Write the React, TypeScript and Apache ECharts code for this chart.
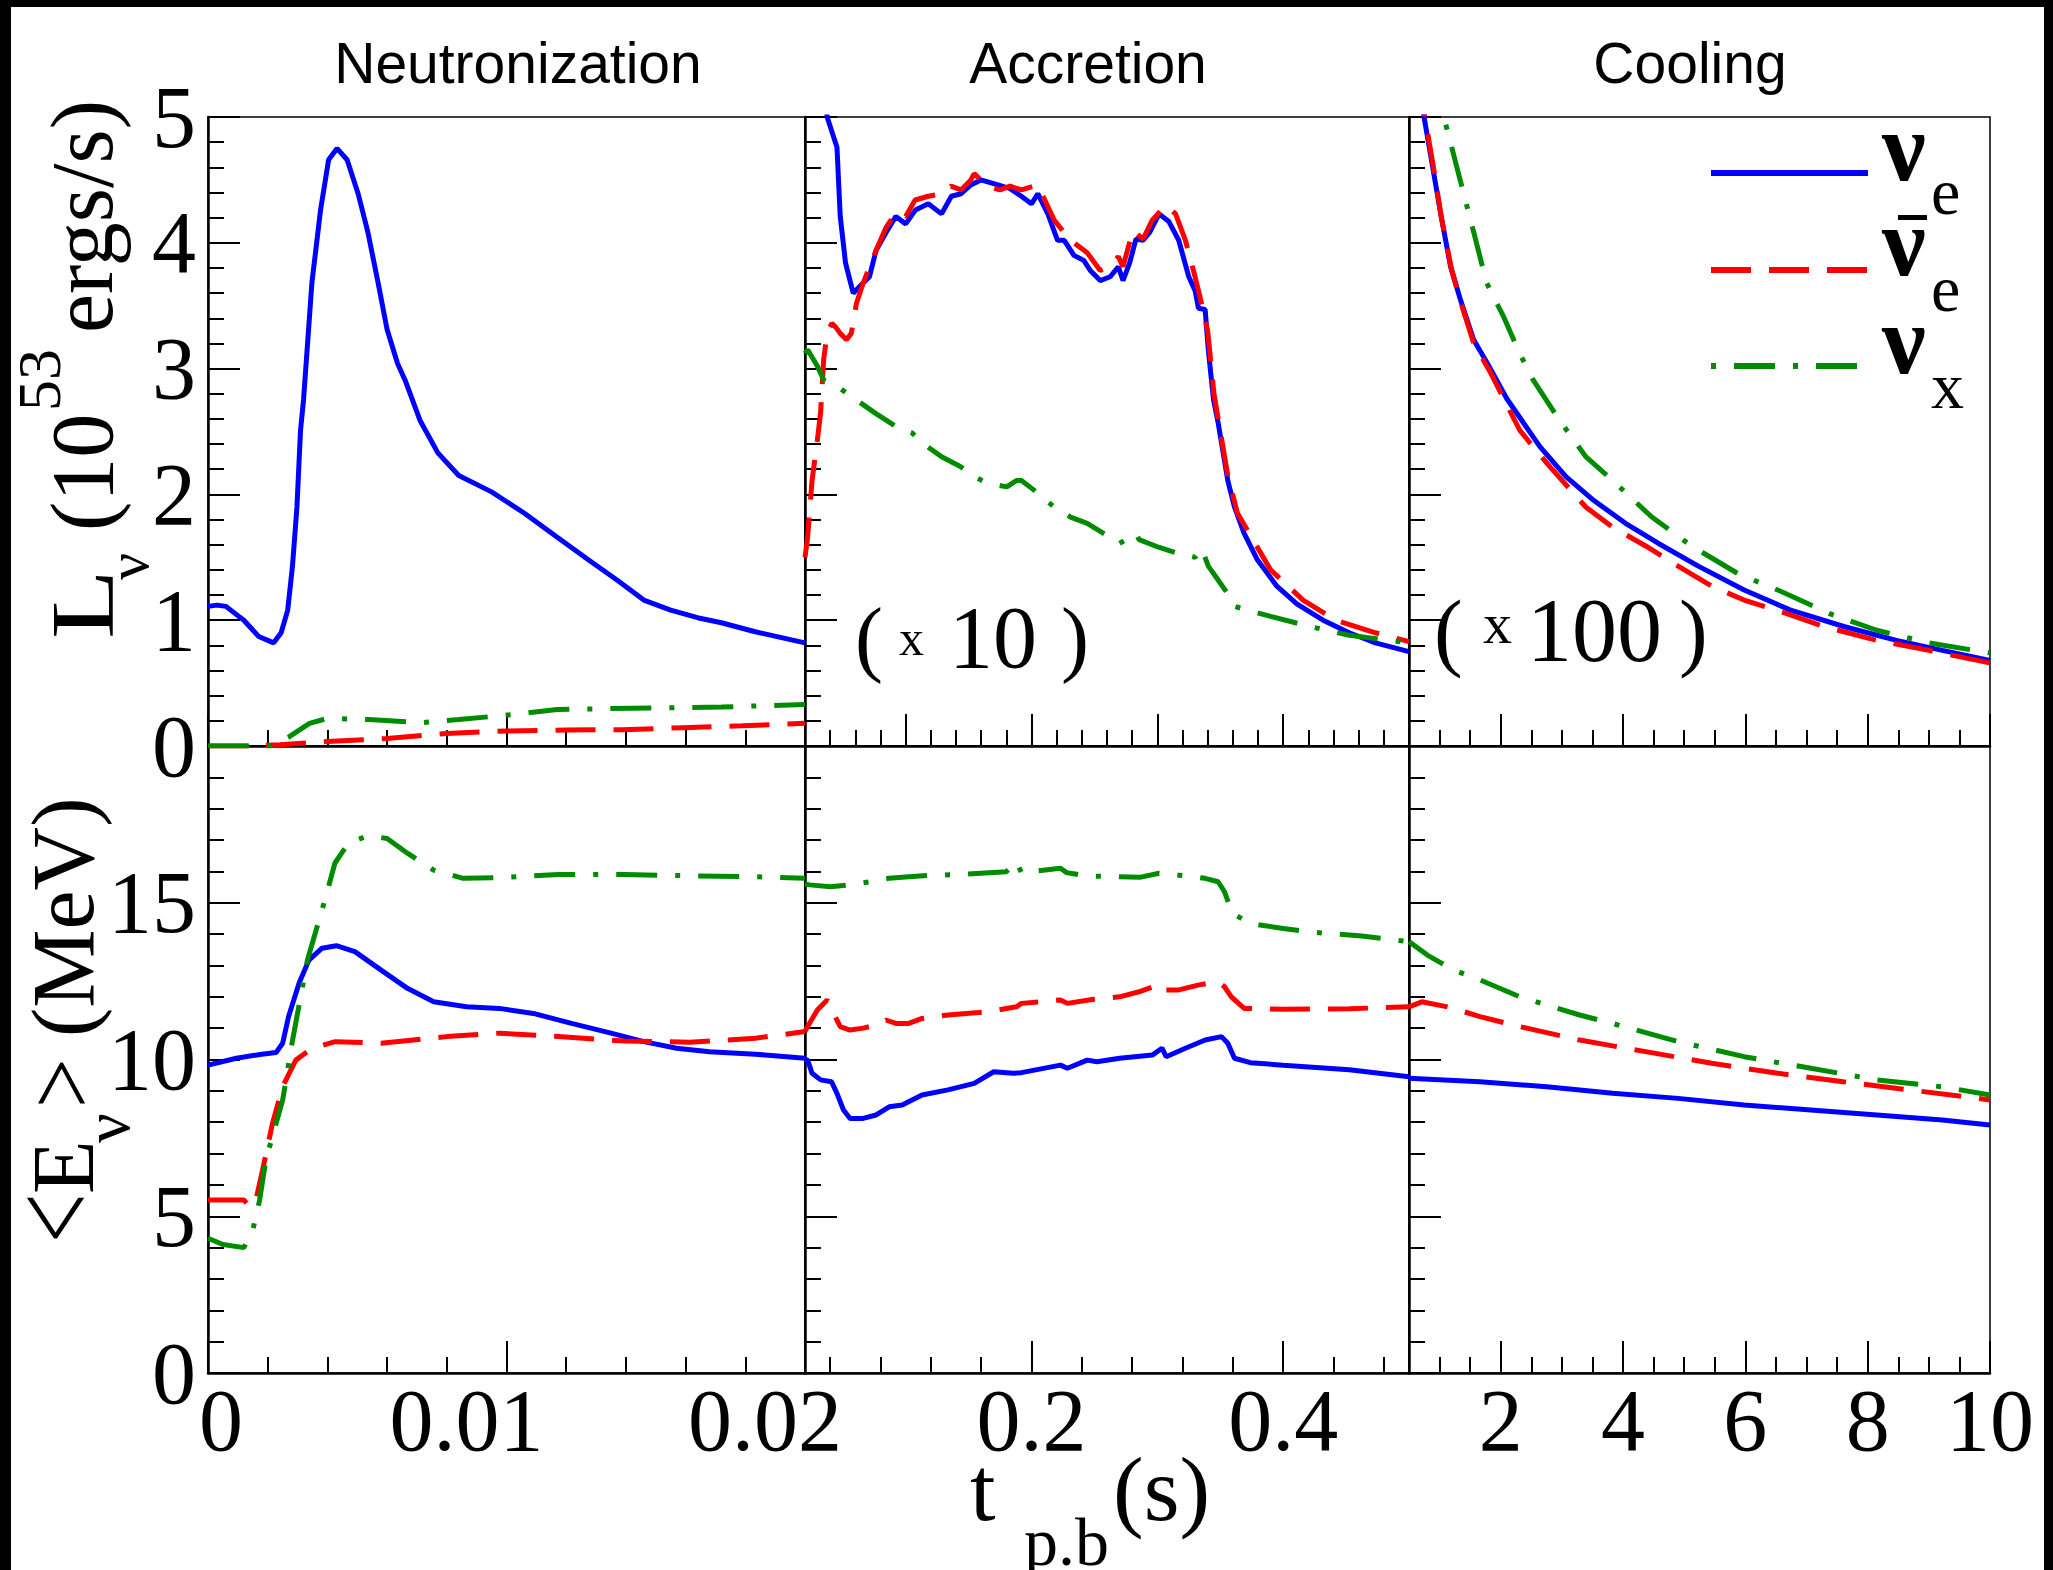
import React, { useEffect, useRef } from "react";
import * as echarts from "echarts";

// ---------- axis ranges / ticks / labels ----------
const neutRange = [0, 0.02];
const accRange = [0.02, 0.5];
const coolRange = [0.5, 10];
const lumRange = [0, 5];
const engRange = [0, 20];

const neutMajor = [0, 0.01, 0.02];
const neutMinor = [0.002, 0.004, 0.006, 0.008, 0.012, 0.014, 0.016, 0.018];
const neutLabelVals = [0, 0.01, 0.02];
const neutLabels = ["0", "0.01", "0.02"];

const accTopMajor = [0.1, 0.2, 0.3, 0.4];
const accTopMinor = [0.04, 0.06, 0.08, 0.12, 0.14, 0.16, 0.18, 0.22, 0.24, 0.26, 0.28, 0.32, 0.34, 0.36, 0.38, 0.42, 0.44, 0.46, 0.48];
const accBotMajor = [0.2, 0.4];
const accBotMinor = [0.04, 0.08, 0.12, 0.16, 0.24, 0.28, 0.32, 0.36, 0.44, 0.48];
const accLabelVals = [0.2, 0.4];
const accLabels = ["0.2", "0.4"];

const coolMajor = [2, 4, 6, 8, 10];
const coolMinor = [1, 1.5, 2.5, 3, 3.5, 4.5, 5, 5.5, 6.5, 7, 7.5, 8.5, 9, 9.5];
const coolLabelVals = [2, 4, 6, 8, 10];
const coolLabels = ["2", "4", "6", "8", "10"];

const phaseNames = ["Neutronization", "Accretion", "Cooling"];

// ---------- luminosity (10^53 erg/s) ----------
const lumNeutNue = [[0,1.11],[0.0003,1.12],[0.0006,1.11],[0.0012,1.0],[0.0017,0.87],[0.0022,0.82],[0.00245,0.9],[0.00267,1.08],[0.00283,1.43],[0.00298,1.9],[0.0031,2.51],[0.0032,2.75],[0.00348,3.68],[0.00377,4.26],[0.00404,4.66],[0.00432,4.75],[0.00466,4.66],[0.00503,4.39],[0.00536,4.08],[0.0057,3.68],[0.006,3.31],[0.00635,3.04],[0.0066,2.91],[0.0071,2.59],[0.0077,2.33],[0.0084,2.15],[0.0095,2.02],[0.0106,1.85],[0.0117,1.66],[0.0128,1.47],[0.0137,1.32],[0.0146,1.16],[0.0155,1.08],[0.0164,1.02],[0.0172,0.98],[0.0183,0.91],[0.02,0.82]];
const lumNeutAnti = [[0,0],[0.0014,0],[0.0024,0.01],[0.004,0.035],[0.006,0.06],[0.008,0.1],[0.01,0.12],[0.012,0.127],[0.0139,0.13],[0.0159,0.145],[0.0179,0.16],[0.02,0.18]];
const lumNeutNux = [[0,0],[0.0021,0],[0.0027,0.07],[0.0034,0.18],[0.004,0.22],[0.0054,0.21],[0.0071,0.185],[0.0084,0.21],[0.0102,0.25],[0.0117,0.29],[0.0142,0.3],[0.0172,0.31],[0.02,0.33]];

const lumAccNue = [[0.02,7.5],[0.034,5.5],[0.0376,5.0],[0.0454,4.76],[0.048,4.21],[0.0522,3.84],[0.0583,3.6],[0.0662,3.68],[0.0712,3.73],[0.0765,3.94],[0.0843,4.08],[0.0922,4.21],[0.1,4.15],[0.1077,4.26],[0.118,4.31],[0.1285,4.23],[0.1363,4.37],[0.144,4.39],[0.1518,4.46],[0.1597,4.5],[0.17,4.47],[0.183,4.43],[0.192,4.37],[0.2,4.31],[0.205,4.39],[0.213,4.23],[0.2207,4.02],[0.226,4.02],[0.2337,3.9],[0.2416,3.86],[0.2467,3.78],[0.2546,3.7],[0.2625,3.73],[0.269,3.81],[0.2727,3.7],[0.278,3.84],[0.283,4.03],[0.2886,4.02],[0.2937,4.08],[0.3014,4.23],[0.3091,4.17],[0.317,4.02],[0.325,3.73],[0.33,3.62],[0.3327,3.48],[0.338,3.47],[0.3405,3.15],[0.343,2.91],[0.3447,2.75],[0.3483,2.57],[0.356,2.11],[0.3613,1.9],[0.369,1.69],[0.3795,1.48],[0.395,1.27],[0.4108,1.13],[0.4317,1.0],[0.4525,0.9],[0.4733,0.82],[0.5,0.75]];
const lumAccAnti = [[0.02,1.5],[0.0221,1.66],[0.0256,2.11],[0.0298,2.43],[0.0324,2.65],[0.0348,3.07],[0.0376,3.28],[0.0413,3.36],[0.0444,3.33],[0.048,3.28],[0.053,3.23],[0.0568,3.28],[0.0609,3.52],[0.0662,3.68],[0.0765,3.94],[0.0843,4.12],[0.0922,4.24],[0.1,4.21],[0.1075,4.34],[0.118,4.37],[0.1285,4.39],[0.136,4.45],[0.144,4.42],[0.1518,4.5],[0.1545,4.55],[0.1648,4.45],[0.175,4.42],[0.183,4.45],[0.192,4.42],[0.205,4.46],[0.218,4.18],[0.226,4.08],[0.2337,4.0],[0.2443,3.92],[0.2546,3.78],[0.2625,3.81],[0.269,3.89],[0.2727,3.81],[0.2806,4.1],[0.2886,4.03],[0.296,4.18],[0.3067,4.3],[0.3145,4.23],[0.3223,4.02],[0.33,3.73],[0.3353,3.51],[0.34,3.3],[0.345,2.8],[0.356,2.15],[0.3637,1.85],[0.39,1.4],[0.4158,1.16],[0.4419,1.0],[0.4733,0.9],[0.5,0.83]];
const lumAccNux = [[0.02,3.12],[0.0221,3.15],[0.0298,3.02],[0.0348,2.91],[0.0454,2.86],[0.0609,2.75],[0.0767,2.64],[0.0922,2.54],[0.105,2.49],[0.113,2.41],[0.1285,2.3],[0.1438,2.22],[0.1545,2.14],[0.1648,2.09],[0.1803,2.06],[0.188,2.11],[0.192,2.11],[0.2025,2.03],[0.218,1.9],[0.231,1.82],[0.2443,1.77],[0.27,1.61],[0.283,1.69],[0.2855,1.64],[0.301,1.58],[0.317,1.53],[0.33,1.5],[0.3353,1.57],[0.3405,1.43],[0.3483,1.32],[0.356,1.21],[0.3613,1.11],[0.39,1.03],[0.4213,0.95],[0.4525,0.88],[0.5,0.82]];

const lumCoolNue = [[0.5,6.6],[0.6,5.7],[0.746,5.0],[0.888,4.6],[1.018,4.23],[1.18,3.81],[1.34,3.55],[1.557,3.23],[1.83,3.0],[2.1,2.76],[2.64,2.38],[3.07,2.14],[3.5,1.96],[4.04,1.77],[4.58,1.61],[5.23,1.43],[5.98,1.24],[6.74,1.08],[7.61,0.95],[8.47,0.84],[9.22,0.76],[10,0.68]];
const lumCoolAnti = [[0.5,6.7],[0.6,5.8],[0.76,5.0],[0.9,4.6],[1.03,4.2],[1.19,3.8],[1.35,3.52],[1.56,3.2],[1.83,2.97],[2.31,2.51],[2.75,2.25],[3.39,1.9],[3.83,1.74],[4.37,1.59],[4.9,1.43],[5.45,1.27],[5.98,1.16],[6.63,1.06],[7.28,0.95],[8.15,0.84],[9.0,0.76],[10,0.66]];
const lumCoolNux = [[0.5,8.0],[0.8,6.2],[1.07,5.0],[1.32,4.53],[1.56,4.08],[1.77,3.68],[2.04,3.42],[2.31,3.12],[2.53,2.91],[2.96,2.59],[3.39,2.3],[3.83,2.11],[4.47,1.82],[5.12,1.59],[5.88,1.37],[6.53,1.24],[7.39,1.05],[8.15,0.92],[9.0,0.82],[10,0.74]];

// ---------- mean energy (MeV) ----------
const engNeutNue = [[0,9.82],[0.00095,10.04],[0.0018,10.17],[0.00228,10.22],[0.0025,10.52],[0.0027,11.37],[0.00305,12.43],[0.00338,13.17],[0.00382,13.55],[0.0043,13.63],[0.00492,13.44],[0.0058,12.85],[0.00668,12.27],[0.00756,11.84],[0.00866,11.68],[0.00976,11.63],[0.0109,11.47],[0.01218,11.15],[0.0135,10.84],[0.0146,10.57],[0.0157,10.36],[0.0168,10.25],[0.01834,10.17],[0.02,10.04]];
const engNeutAnti = [[0,5.52],[0.0012,5.52],[0.0014,5.3],[0.0016,5.5],[0.00183,6.48],[0.00216,7.96],[0.0025,9.13],[0.00294,9.98],[0.00349,10.36],[0.00426,10.57],[0.0058,10.52],[0.008,10.73],[0.00976,10.84],[0.01174,10.73],[0.01396,10.59],[0.01615,10.55],[0.01834,10.68],[0.02,10.89]];
const engNeutNux = [[0,4.3],[0.0005,4.1],[0.0012,4.0],[0.0015,4.56],[0.00173,5.52],[0.00194,6.8],[0.0025,8.7],[0.00283,10.6],[0.00333,13.17],[0.00392,15.1],[0.00425,16.26],[0.0047,16.9],[0.00536,17.14],[0.006,17.05],[0.00668,16.58],[0.00756,16.04],[0.00855,15.78],[0.00976,15.8],[0.01174,15.9],[0.01396,15.9],[0.01615,15.86],[0.01834,15.83],[0.02,15.78]];

const engAccNue = [[0.02,10.0],[0.0221,9.98],[0.0256,9.56],[0.0324,9.35],[0.0411,9.29],[0.0454,8.92],[0.0506,8.39],[0.0558,8.12],[0.0662,8.12],[0.0765,8.23],[0.0869,8.49],[0.0972,8.55],[0.113,8.87],[0.1336,9.03],[0.1545,9.24],[0.17,9.61],[0.1856,9.56],[0.192,9.58],[0.223,9.82],[0.2285,9.72],[0.2443,9.98],[0.252,9.93],[0.27,10.04],[0.296,10.14],[0.3037,10.36],[0.307,10.09],[0.3223,10.36],[0.338,10.62],[0.351,10.73],[0.356,10.52],[0.3613,10.04],[0.374,9.9],[0.4,9.82],[0.4525,9.67],[0.5,9.45]];
const engAccAnti = [[0.02,10.9],[0.0221,11.05],[0.0298,11.58],[0.0376,11.9],[0.0427,11.47],[0.048,11.05],[0.0558,10.94],[0.0662,11.0],[0.0765,11.1],[0.0843,11.26],[0.0922,11.15],[0.1025,11.15],[0.113,11.31],[0.1336,11.42],[0.1648,11.52],[0.188,11.68],[0.192,11.79],[0.223,11.9],[0.2285,11.79],[0.2494,11.92],[0.27,12.0],[0.2855,12.16],[0.301,12.38],[0.3037,12.22],[0.317,12.22],[0.3332,12.38],[0.3483,12.48],[0.3534,12.32],[0.3588,12.0],[0.369,11.63],[0.4,11.6],[0.4525,11.62],[0.5,11.68]];
const engAccNux = [[0.02,15.6],[0.0237,15.57],[0.0403,15.51],[0.0558,15.57],[0.0713,15.67],[0.0869,15.78],[0.1025,15.83],[0.123,15.88],[0.1438,15.9],[0.18,15.99],[0.188,16.31],[0.192,15.96],[0.223,16.1],[0.228,15.96],[0.2443,15.85],[0.27,15.83],[0.286,15.81],[0.3014,15.94],[0.317,15.88],[0.338,15.78],[0.3483,15.67],[0.3534,15.35],[0.3597,14.66],[0.374,14.34],[0.4,14.18],[0.426,14.05],[0.4625,13.94],[0.5,13.76]];

const engCoolNue = [[0.5,9.4],[1.66,9.29],[2.75,9.13],[3.83,8.92],[4.9,8.76],[5.98,8.55],[7.07,8.39],[8.15,8.23],[9.22,8.07],[10,7.91]];
const engCoolAnti = [[0.5,11.68],[0.71,11.84],[1.13,11.68],[1.66,11.37],[2.31,11.05],[3.29,10.62],[4.37,10.25],[5.45,9.88],[6.53,9.56],[7.6,9.29],[8.69,9.03],[10,8.71]];
const engCoolNux = [[0.5,13.76],[0.8,13.33],[1.23,12.85],[1.66,12.54],[2.31,12.0],[3.29,11.42],[3.83,11.15],[4.9,10.57],[5.98,10.09],[7.07,9.72],[8.15,9.35],[9.22,9.13],[10,8.87]];

// ---------- styling ----------
const SERIF = '"Liberation Serif", "Times New Roman", serif';
const SANS = '"Liberation Sans", Arial, sans-serif';
const lineColors = ["#0000ff", "#ff0000", "#008b00"];
const lineDashes: any[] = ["solid", [40, 18], [41, 18, 5, 18]];

const cols = [
  { left: 208, width: 597 },
  { left: 805, width: 604 },
  { left: 1409, width: 581 },
];
const rows = [
  { top: 117, height: 629 },
  { top: 746, height: 627 },
];

function buildOption() {
  const panels = [
    { r: 0, c: 0, xr: neutRange, maj: neutMajor, min: neutMinor, lv: null, lt: null, data: [lumNeutNue, lumNeutAnti, lumNeutNux] },
    { r: 0, c: 1, xr: accRange, maj: accTopMajor, min: accTopMinor, lv: null, lt: null, data: [lumAccNue, lumAccAnti, lumAccNux] },
    { r: 0, c: 2, xr: coolRange, maj: coolMajor, min: coolMinor, lv: null, lt: null, data: [lumCoolNue, lumCoolAnti, lumCoolNux] },
    { r: 1, c: 0, xr: neutRange, maj: neutMajor, min: neutMinor, lv: neutLabelVals, lt: neutLabels, data: [engNeutNue, engNeutAnti, engNeutNux] },
    { r: 1, c: 1, xr: accRange, maj: accBotMajor, min: accBotMinor, lv: accLabelVals, lt: accLabels, data: [engAccNue, engAccAnti, engAccNux] },
    { r: 1, c: 2, xr: coolRange, maj: coolMajor, min: coolMinor, lv: coolLabelVals, lt: coolLabels, data: [engCoolNue, engCoolAnti, engCoolNux] },
  ];

  const grid: any[] = [];
  const xAxis: any[] = [];
  const yAxis: any[] = [];
  const series: any[] = [];
  const tickStyle = { color: "#000", width: 2 };

  panels.forEach((p, g) => {
    grid.push({
      left: cols[p.c].left, width: cols[p.c].width,
      top: rows[p.r].top, height: rows[p.r].height,
      show: true, borderColor: "#000", borderWidth: 1.5, backgroundColor: "transparent",
    });
    const labelCfg: any = p.lv
      ? {
          show: true,
          customValues: p.lv,
          margin: 3,
          color: "#000",
          fontFamily: SERIF,
          fontSize: 88,
          lineHeight: 88,
          formatter: (v: number) => {
            const i = p.lv!.findIndex((q) => Math.abs(q - v) < 1e-9);
            const txt = i >= 0 ? p.lt![i] : "";
            if (p.c === 0) {
              if (i === 0) return "{r|" + txt + "}";
              return "{l|" + txt + "}";
            }
            return "{n|" + txt + "}";
          },
          rich: {
            n: { fontFamily: SERIF, fontSize: 88, lineHeight: 88, color: "#000" },
            l: { fontFamily: SERIF, fontSize: 88, lineHeight: 88, color: "#000", padding: [0, 80, 0, 0] },
            r: { fontFamily: SERIF, fontSize: 88, lineHeight: 88, color: "#000", padding: [0, 0, 0, 26] },
          },
        }
      : { show: false };
    xAxis.push({
      gridIndex: g, type: "value", min: p.xr[0], max: p.xr[1], position: "bottom",
      axisLine: { show: true, onZero: false, lineStyle: { color: "#000", width: 2.5 } },
      axisTick: { show: true, inside: true, length: 32, lineStyle: tickStyle, customValues: p.maj },
      axisLabel: labelCfg,
      splitLine: { show: false },
    });
    xAxis.push({
      gridIndex: g, type: "value", min: p.xr[0], max: p.xr[1], position: "bottom",
      axisLine: { show: false, onZero: false },
      axisTick: { show: true, inside: true, length: 16, lineStyle: tickStyle, customValues: p.min },
      axisLabel: { show: false },
      splitLine: { show: false },
    });
    const yr = p.r === 0 ? lumRange : engRange;
    yAxis.push({
      gridIndex: g, type: "value", min: yr[0], max: yr[1], interval: p.r === 0 ? 1 : 5,
      axisLine: { show: true, onZero: false, lineStyle: { color: "#000", width: 2.5 } },
      axisTick: { show: true, inside: true, length: 32, lineStyle: tickStyle },
      minorTick: { show: true, splitNumber: 5, length: 16, lineStyle: tickStyle },
      splitLine: { show: false },
      minorSplitLine: { show: false },
      axisLabel:
        p.c === 0
          ? {
              show: true, margin: 12, color: "#000", fontFamily: SERIF, fontSize: 88, lineHeight: 88,
              padding: p.r === 1 ? [0, 0, 30, 0] : 0,
              formatter: (v: number) => (p.r === 1 && v >= 20 ? "" : String(v)),
            }
          : { show: false },
    });
    p.data.forEach((d, k) => {
      series.push({
        type: "line", xAxisIndex: 2 * g, yAxisIndex: g, data: d,
        showSymbol: false, symbol: "none", clip: true, silent: true,
        lineStyle: { color: lineColors[k], width: 5, type: lineDashes[k] },
        z: 2 + k,
      });
    });
  });

  const txt = (text: string, x: number, y: number, size: number, o: any = {}) => ({
    type: "text", x, y, rotation: o.rot || 0, scaleX: o.sx || 1, scaleY: o.sy || 1, z: 100, silent: true,
    style: {
      text, fontSize: size, fontFamily: o.family || SERIF, fontWeight: o.weight || "normal",
      fill: "#000", align: o.align || "left", verticalAlign: "middle",
    },
  });
  const R = Math.PI / 2;
  const graphic: any[] = [
    // frame
    { type: "rect", shape: { x: 0, y: 0, width: 11, height: 1570 }, style: { fill: "#000" }, z: 200 },
    { type: "rect", shape: { x: 0, y: 0, width: 2053, height: 7 }, style: { fill: "#000" }, z: 200 },
    { type: "rect", shape: { x: 2044, y: 0, width: 9, height: 1570 }, style: { fill: "#000" }, z: 200 },
    // phase titles
    txt(phaseNames[0], 518, 63, 57, { family: SANS, align: "center" }),
    txt(phaseNames[1], 1088, 63, 57, { family: SANS, align: "center" }),
    txt(phaseNames[2], 1690, 63, 57, { family: SANS, align: "center" }),
    // top y title: L_nu (10^53 ergs/s)
    txt("L", 82, 639, 88, { rot: R, sx: 1.3 }),
    txt("ν", 128, 580, 60, { rot: R }),
    txt("(10", 82, 531, 88, { rot: R }),
    txt("53", 39, 411, 62, { rot: R }),
    txt("ergs/s)", 82, 333, 88, { rot: R }),
    // bottom y title: <E_nu> (MeV)
    txt("<", 55, 1243, 88, { rot: R, sy: 1.35 }),
    txt("E", 63, 1194, 88, { rot: R }),
    txt("ν", 106, 1143, 66, { rot: R }),
    txt(">", 62, 1108, 88, { rot: R, sy: 1.1 }),
    txt("(MeV)", 63, 1037, 88, { rot: R }),
    // x title: t_p.b (s)
    txt("t", 970, 1489, 92),
    txt("p.b", 1024, 1542, 68),
    txt("(s)", 1113, 1489, 92),
    // scale annotations
    txt("(", 855, 637, 84),
    txt("x", 899, 638, 50),
    txt("10", 949, 637, 88),
    txt(")", 1061, 637, 84),
    txt("(", 1434, 631, 86),
    txt("x", 1483, 623, 58),
    txt("100", 1527, 630, 90),
    txt(")", 1679, 631, 86),
    // legend
    { type: "line", shape: { x1: 1711, y1: 173, x2: 1868, y2: 173 }, style: { stroke: lineColors[0], lineWidth: 6 }, z: 100 },
    { type: "line", shape: { x1: 1711, y1: 270, x2: 1868, y2: 270 }, style: { stroke: lineColors[1], lineWidth: 6, lineDash: [40, 18] }, z: 100 },
    { type: "line", shape: { x1: 1711, y1: 366, x2: 1858, y2: 366 }, style: { stroke: lineColors[2], lineWidth: 6, lineDash: [5, 18, 41, 18] }, z: 100 },
    txt("ν", 1882, 147, 98, { weight: "bold" }),
    txt("e", 1931, 191, 66),
    { type: "line", shape: { x1: 1898, y1: 217.5, x2: 1927, y2: 217.5 }, style: { stroke: "#000", lineWidth: 5 }, z: 100 },
    txt("ν", 1882, 242, 98, { weight: "bold" }),
    txt("e", 1931, 288, 66),
    txt("ν", 1882, 340, 98, { weight: "bold" }),
    txt("x", 1931, 385, 66),
  ];

  return {
    animation: false,
    backgroundColor: "#fff",
    grid, xAxis, yAxis, series, graphic,
  };
}

export default function App() {
  const ref = useRef<HTMLDivElement>(null);
  useEffect(() => {
    if (!ref.current) return;
    const chart = echarts.init(ref.current, null, { renderer: "svg" });
    chart.setOption(buildOption() as any);
    return () => chart.dispose();
  }, []);
  return (
    <div
      ref={ref}
      style={{ position: "absolute", left: 0, top: 0, width: 2053, height: 1570, background: "#fff" }}
    />
  );
}
